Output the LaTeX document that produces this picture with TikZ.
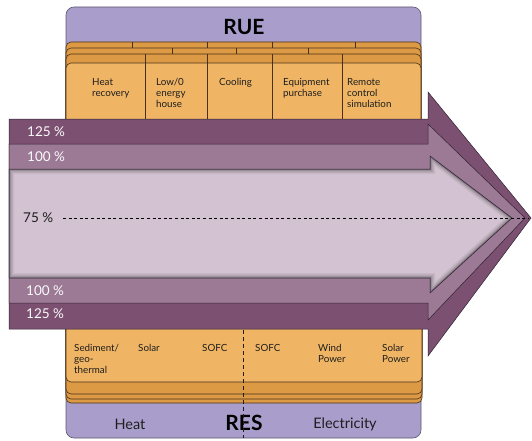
\documentclass[tikz,border=0pt]{standalone}
\usepackage{fontspec}
\setmainfont{Lato}
\definecolor{lav}{HTML}{A99DCB}
\definecolor{lavline}{HTML}{5E5870}
\definecolor{orfront}{HTML}{F0B564}
\definecolor{orback}{HTML}{DC9A45}
\definecolor{orline}{HTML}{4A3018}
\definecolor{purdark}{HTML}{7C5070}
\definecolor{purmid}{HTML}{9C7A96}
\definecolor{purlight}{HTML}{D3C2D1}
\definecolor{purline}{HTML}{2E2030}
\definecolor{ink}{HTML}{1E1E1E}
\begin{document}
\begin{tikzpicture}[x=1pt,y=-1pt,
  panel/.style={draw=lavline,line width=0.6pt,fill=lav,rounded corners=8pt},
  layer/.style={draw=orline,line width=0.6pt,rounded corners=5pt},
  divider/.style={draw=orline,line width=0.6pt},
  band/.style={draw=purline,line width=0.5pt},
  cell/.style={anchor=north west,align=left,inner sep=0pt,text=ink,
    font=\fontsize{9.8}{11}\selectfont},
  pct/.style={anchor=west,inner sep=0pt,text=white!92!purlight,
    font=\fontsize{13.5}{15}\selectfont},
  title/.style={inner sep=0pt,text=black,font=\fontsize{21}{23}\selectfont\bfseries},
  group/.style={inner sep=0pt,text=ink,font=\fontsize{14.5}{16}\selectfont}]
\useasboundingbox (0,0) rectangle (532,441);

% lavender frame behind everything
\draw[panel] (66,7) rectangle (421,438);

% stacked sheets, upper side (back to front)
\foreach \t in {42,48,54}
  \draw[layer,fill=orback] (66,\t) rectangle (421,200);
\draw[layer,fill=orfront] (66,63) rectangle (421,200);
\foreach \x in {132,207,272,355} \draw[divider] (\x,42) -- (\x,48);
\foreach \x in {172,236,308} \draw[divider] (\x,48) -- (\x,54);
\foreach \x in {145,207,272,342} \draw[divider] (\x,54) -- (\x,125);

% stacked sheets, lower side (back to front)
\foreach \b in {403,399,394}
  \draw[layer,fill=orback] (66,250) rectangle (422,\b);
\draw[layer,fill=orfront] (66,250) rectangle (422,382);

% the three nested arrows
\draw[band,fill=purdark] (9,119) -- (428,119) -- (428,92) -- (531,218)
  -- (428,356) -- (428,329) -- (9,329) -- cycle;
\draw[band,fill=purmid] (9,144) -- (428,144) -- (428,124) -- (525,218)
  -- (428,320) -- (428,303) -- (9,303) -- cycle;
\fill[purlight] (9,169) -- (430,169) -- (430,156) -- (512,218)
  -- (430,293) -- (430,278) -- (9,278) -- cycle;
\begin{scope}
  \clip (9,169) -- (430,169) -- (430,156) -- (512,218)
    -- (430,293) -- (430,278) -- (9,278) -- cycle;
  \foreach \w/\o in {10/0.05,7.5/0.07,5/0.09,3/0.13,1.5/0.18}
    \draw[black,opacity=\o,line width=\w pt,line join=miter]
      (9,169) -- (430,169) -- (430,156) -- (512,218)
      -- (430,293) -- (430,278) -- (9,278) -- cycle;
\end{scope}
\draw[band] (9,169) -- (430,169) -- (430,156) -- (512,218)
  -- (430,293) -- (430,278) -- (9,278) -- cycle;

% centre line
\coordinate (lineL) at (63,218);
\coordinate (lineR) at (529,218);
\draw[black,line width=0.9pt,dash pattern=on 3pt off 2.6pt] (lineL) -- (lineR);

% percentage labels
\node[pct] (p125t) at (27,132) {125 \%};
\node[pct] (p100t) at (27,157) {100 \%};
\node[pct,text=ink] (p75) at (23,218) {75 \%};
\node[pct] (p100b) at (26,291) {100 \%};
\node[pct] (p125b) at (26,314) {125 \%};

% RUE side
\node[title] (rue) at (244,27) {RUE};
\node[cell] (heatrec) at (92,78.5) {Heat\\recovery};
\node[cell] (lowzero) at (156,78.5) {Low/0\\energy\\house};
\node[cell] (cooling) at (219,78.5) {Cooling};
\node[cell] (equip) at (283,78.5) {Equipment\\purchase};
\node[cell] (remote) at (347,78.5) {Remote\\control\\simulation};

% RES side
\node[cell] (sediment) at (74,344.5) {Sediment/\\geo-\\thermal};
\node[cell] (solarh) at (138,344.5) {Solar};
\node[cell] (sofch) at (202,344.5) {SOFC};
\node[cell] (sofce) at (255,344.5) {SOFC};
\node[cell] (wind) at (318,344.5) {Wind\\Power};
\node[cell] (solarp) at (382,344.5) {Solar\\Power};
\node[group] (heat) at (130,424) {Heat};
\node[title] (res) at (244,423) {RES};
\node[group] (elec) at (345,424) {Electricity};

% split between heat and electricity
\coordinate (splitT) at (243,330);
\coordinate (splitB) at (243,438);
\draw[ink,line width=0.8pt,dash pattern=on 4pt off 3pt] (splitT) -- (splitB);
\end{tikzpicture}
\end{document}
